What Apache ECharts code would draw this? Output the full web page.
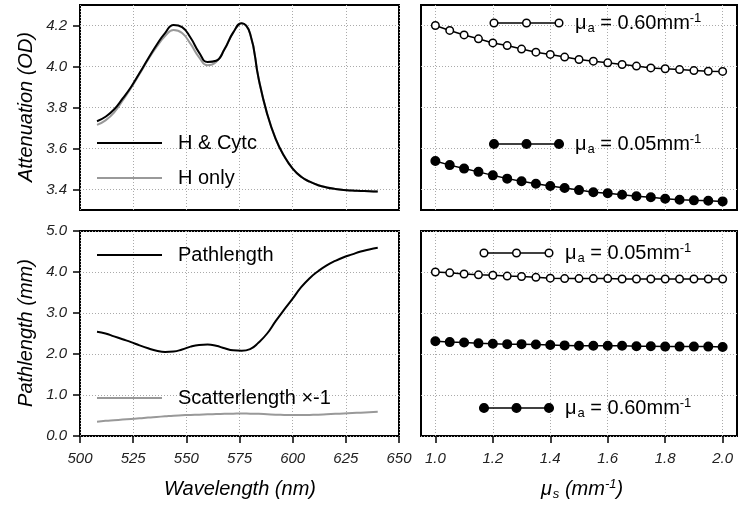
<!DOCTYPE html>
<html><head><meta charset="utf-8">
<script src="https://cdn.jsdelivr.net/npm/echarts@6/dist/echarts.min.js"></script>
<style>html,body{margin:0;padding:0;background:#fff}#c{width:738px;height:506px}</style>
</head><body><div id="c"></div>
<script>
// ---- data ----
const wavelength = [508,512,516,520,524,528,532,536,540,544,548,552,556,560,564,568,572,576,580,584,588,592,596,600,604,608,612,616,620,624,628,632,636,640];
const attenHCytc = [3.733,3.755,3.790,3.843,3.900,3.968,4.038,4.105,4.163,4.203,4.192,4.140,4.068,4.022,4.028,4.085,4.165,4.211,4.160,3.940,3.769,3.647,3.563,3.502,3.462,3.438,3.421,3.410,3.403,3.398,3.395,3.393,3.391,3.390];
const attenHOnly = [3.715,3.737,3.775,3.833,3.895,3.963,4.033,4.095,4.148,4.178,4.163,4.110,4.045,4.006,4.022,4.085,4.165,4.211,4.160,3.940,3.769,3.647,3.563,3.502,3.462,3.438,3.421,3.410,3.403,3.398,3.395,3.393,3.391,3.390];
const pathlength = [2.54,2.50,2.43,2.36,2.29,2.21,2.14,2.08,2.05,2.06,2.11,2.18,2.22,2.23,2.20,2.14,2.09,2.08,2.12,2.28,2.50,2.80,3.08,3.35,3.63,3.85,4.02,4.16,4.27,4.36,4.43,4.50,4.55,4.59];
const scatterlength = [0.35,0.37,0.385,0.40,0.415,0.43,0.45,0.465,0.48,0.495,0.505,0.515,0.52,0.53,0.535,0.54,0.545,0.55,0.545,0.54,0.53,0.52,0.515,0.51,0.51,0.515,0.52,0.53,0.54,0.55,0.56,0.57,0.58,0.59];

const mus = [1.00,1.05,1.10,1.15,1.20,1.25,1.30,1.35,1.40,1.45,1.50,1.55,1.60,1.65,1.70,1.75,1.80,1.85,1.90,1.95,2.00];
const attenMua060 = [4.200,4.176,4.154,4.135,4.115,4.102,4.085,4.070,4.059,4.046,4.034,4.026,4.018,4.010,4.002,3.993,3.989,3.985,3.980,3.977,3.976];
const attenMua005 = [3.539,3.519,3.502,3.486,3.469,3.453,3.440,3.428,3.417,3.407,3.397,3.387,3.382,3.374,3.367,3.362,3.355,3.350,3.347,3.345,3.342];
const pathMua005 = [4.00,3.98,3.95,3.93,3.92,3.90,3.89,3.87,3.85,3.84,3.84,3.84,3.84,3.83,3.83,3.83,3.83,3.83,3.83,3.83,3.83];
const pathMua060 = [2.31,2.29,2.28,2.26,2.25,2.24,2.24,2.23,2.22,2.21,2.20,2.20,2.20,2.20,2.19,2.19,2.18,2.18,2.18,2.18,2.17];

const attenTicks = [3.4,3.6,3.8,4.0,4.2];
const pathTicks = [0,1,2,3,4,5];
const wlTicks = [500,525,550,575,600,625,650];
const musTicks = [1.0,1.2,1.4,1.6,1.8,2.0];

// ---- styling ----
const FONT = '"Liberation Sans", Arial, sans-serif';
const zip = (xs, ys) => xs.map((x, i) => [x, ys[i]]);
const split = {show:true, lineStyle:{color:'#aaa', type:[1,2], width:1}};
const tickLabel = {fontFamily:FONT, fontStyle:'italic', fontSize:15, color:'#222'};

function gridOf(left, top, width){
  return {left, top, width, height:205, show:true, borderColor:'#000', borderWidth:2,
          backgroundColor:'transparent', containLabel:false, outerBoundsMode:'none'};
}
const grids = [gridOf(80,5,319), gridOf(421,5,316), gridOf(80,231,319), gridOf(421,231,316)];

function xAx(gi, min, max, ticks, showLabels){
  return {type:'value', gridIndex:gi, min, max,
    axisLine:{show:false},
    axisTick:{show:showLabels, inside:false, length:7, lineStyle:{color:'#000', width:1.5}, customValues:ticks},
    axisLabel:Object.assign({show:showLabels, margin:15, customValues:ticks,
       formatter:v => (max < 10 ? v.toFixed(1) : String(Math.round(v)))}, tickLabel),
    splitLine:split};
}
function yAx(gi, min, max, ticks, showLabels){
  return {type:'value', gridIndex:gi, min, max,
    axisLine:{show:false},
    axisTick:{show:showLabels, inside:false, length:7, lineStyle:{color:'#000', width:1.5}, customValues:ticks},
    axisLabel:Object.assign({show:showLabels, margin:13, customValues:ticks, formatter:v => v.toFixed(1)}, tickLabel),
    splitLine:split};
}

const xAxis = [xAx(0,500,650,wlTicks,false), xAx(1,0.95,2.05,musTicks,false),
               xAx(2,500,650,wlTicks,true), xAx(3,0.95,2.05,musTicks,true)];
const yAxis = [yAx(0,3.3,4.3,attenTicks,true), yAx(1,3.3,4.3,attenTicks,false),
               yAx(2,0,5,pathTicks,true), yAx(3,0,5,pathTicks,false)];

function curve(idx, xs, ys, color){
  return {type:'line', xAxisIndex:idx, yAxisIndex:idx, data:zip(xs, ys), smooth:0.5,
          showSymbol:false, symbol:'none', lineStyle:{color, width:2}, itemStyle:{color}, z:3};
}
function dots(idx, xs, ys, open){
  return {type:'line', xAxisIndex:idx, yAxisIndex:idx, data:zip(xs, ys),
          symbol:'circle', symbolSize:open ? 7.5 : 8.5, showSymbol:true,
          lineStyle:{color:'#000', width:1.5},
          itemStyle:{color:open ? '#fff' : '#000', borderColor:'#000', borderWidth:1.5}, z:3};
}
const series = [
  curve(0, wavelength, attenHOnly, '#999'),
  curve(0, wavelength, attenHCytc, '#000'),
  curve(2, wavelength, scatterlength, '#999'),
  curve(2, wavelength, pathlength, '#000'),
  dots(1, mus, attenMua060, true),
  dots(1, mus, attenMua005, false),
  dots(3, mus, pathMua005, true),
  dots(3, mus, pathMua060, false)
];

// ---- legend samples and titles (graphic) ----
function lineKey(x1, x2, y, color, label){
  return [
    {type:'line', shape:{x1, y1:y, x2, y2:y}, style:{stroke:color, lineWidth:2}, z:10},
    {type:'text', x:x2+16, y, style:{text:label, font:'20px ' + FONT, fill:'#000', align:'left', verticalAlign:'middle'}, z:10}
  ];
}
const richMu = {
  b:{fontSize:20, fontFamily:FONT, fill:'#000', lineHeight:24},
  s:{fontSize:13, fontFamily:FONT, fill:'#000', lineHeight:24, padding:[11,0,0,1]},
  p:{fontSize:13, fontFamily:FONT, fill:'#000', lineHeight:24, padding:[0,0,9,0]}
};
function dotKey(x1, x2, y, open, value){
  const xm = (x1 + x2) / 2;
  const els = [{type:'line', shape:{x1, y1:y, x2, y2:y}, style:{stroke:'#000', lineWidth:1.5}, z:10}];
  [x1, xm, x2].forEach(cx => els.push({type:'circle', shape:{cx, cy:y, r:open ? 3.8 : 4.3},
      style:{fill:open ? '#fff' : '#000', stroke:'#000', lineWidth:1.5}, z:11}));
  els.push({type:'text', x:x2+16, y, z:10, style:{
      text:'{b|\u03bc}{s|a}{b| = ' + value + 'mm}{p|-1}', rich:richMu,
      align:'left', verticalAlign:'middle'}});
  return els;
}
const titleFont = 'italic 20px ' + FONT;
const graphic = [].concat(
  lineKey(97, 162, 143, '#000', 'H & Cytc'),
  lineKey(97, 162, 178, '#999', 'H only'),
  lineKey(97, 162, 255, '#000', 'Pathlength'),
  lineKey(97, 162, 398, '#999', 'Scatterlength \u00d7-1'),
  dotKey(494, 559, 23, true, '0.60'),
  dotKey(494, 559, 144, false, '0.05'),
  dotKey(484, 549, 253, true, '0.05'),
  dotKey(484, 549, 408, false, '0.60'),
  [
    {type:'text', x:26, y:107, rotation:Math.PI/2, style:{text:'Attenuation (OD)', font:titleFont, fill:'#000', align:'center', verticalAlign:'middle'}},
    {type:'text', x:26, y:333, rotation:Math.PI/2, style:{text:'Pathlength (mm)', font:titleFont, fill:'#000', align:'center', verticalAlign:'middle'}},
    {type:'text', x:240, y:489, style:{text:'Wavelength (nm)', font:titleFont, fill:'#000', align:'center', verticalAlign:'middle'}},
    {type:'text', x:582, y:489, style:{
      text:'{b|\u03bc}{s|s}{b| (mm}{p|-1}{b|)}',
      rich:{
        b:{fontSize:20, fontStyle:'italic', fontFamily:FONT, fill:'#000', lineHeight:24},
        s:{fontSize:13, fontStyle:'italic', fontFamily:FONT, fill:'#000', lineHeight:24, padding:[11,0,0,1]},
        p:{fontSize:13, fontStyle:'italic', fontFamily:FONT, fill:'#000', lineHeight:24, padding:[0,0,9,0]}
      }, align:'center', verticalAlign:'middle'}}
  ]
);

const chart = echarts.init(document.getElementById('c'), null, {renderer:'canvas'});
chart.setOption({animation:false, backgroundColor:'#fff', grid:grids, xAxis, yAxis, series, graphic});
</script></body></html>
